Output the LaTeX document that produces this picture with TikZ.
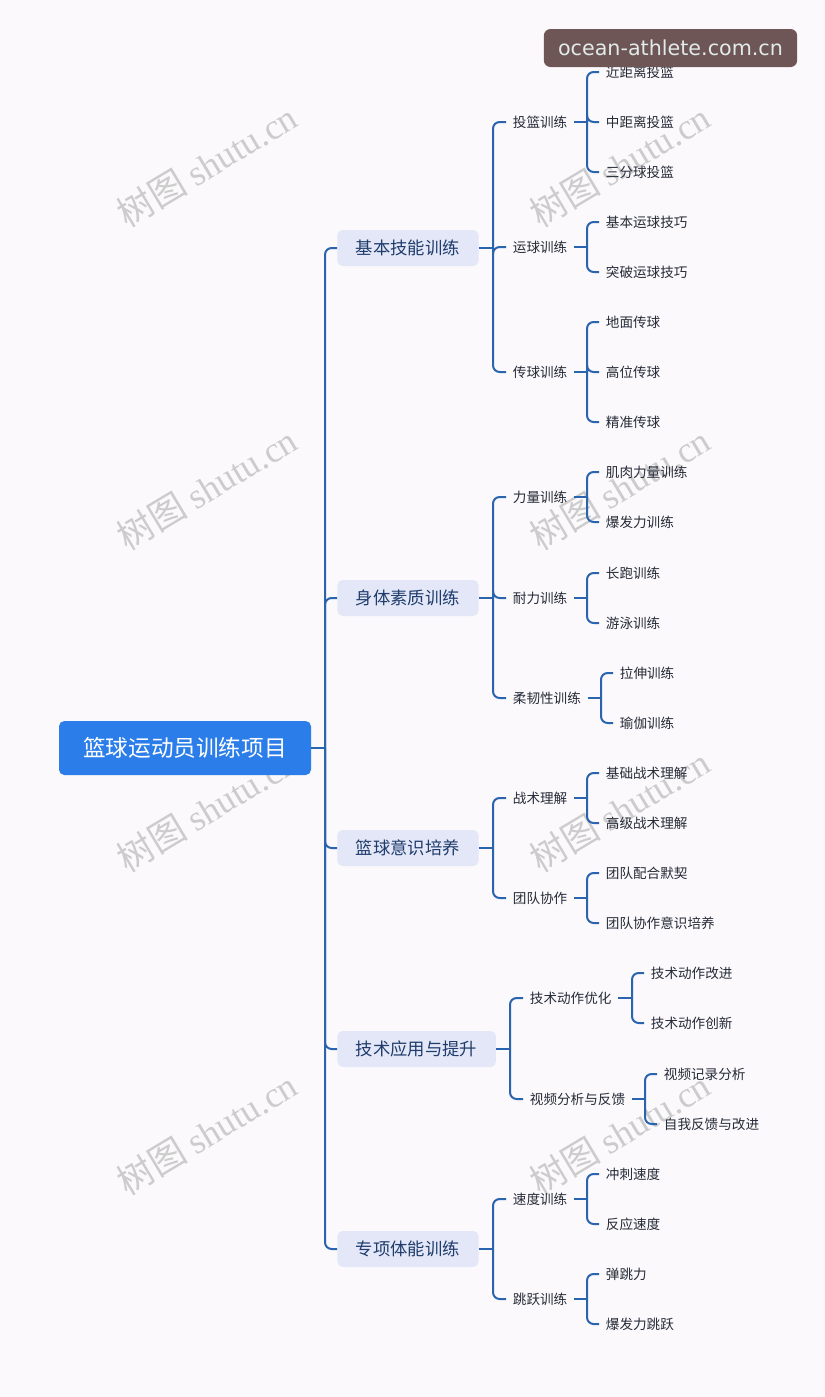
\documentclass[tikz,border=0pt]{standalone}
\usepackage{fontspec}
\setmainfont{Noto Sans CJK SC}
\newfontfamily\sitefont{DejaVu Sans}
\newfontfamily\wmfont{Liberation Serif}

\definecolor{rootblue}{HTML}{2B7DE9}
\definecolor{catfill}{HTML}{E3E7F7}
\definecolor{cattext}{HTML}{1F3C6C}
\definecolor{linkblue}{HTML}{2A64AE}
\definecolor{itemtext}{HTML}{262B38}
\definecolor{badgefill}{HTML}{6E5656}
\definecolor{badgetext}{HTML}{E2EAEA}
\definecolor{paper}{HTML}{FBF9FB}

\begin{document}
\begin{tikzpicture}[x=0.75pt, y=-0.75pt,
  root/.style={rectangle, rounded corners=4pt, fill=rootblue, text=white, font=\fontsize{17}{20}\selectfont, inner xsep=18pt, minimum height=40.5pt},
  cat/.style={rectangle, rounded corners=4pt, fill=catfill, text=cattext, font=\fontsize{13}{16}\selectfont, inner xsep=14pt, minimum height=27pt, anchor=west},
  item/.style={text=itemtext, font=\fontsize{10.2}{12}\selectfont, inner xsep=5pt, inner ysep=2pt, anchor=west},
  link/.style={draw=linkblue, line width=1.5pt, rounded corners=5pt},
  wmark/.style={text=black!20, rotate=31, font=\fontsize{27}{30}\selectfont},
  badge/.style={rectangle, rounded corners=5pt, fill=badgefill, text=badgetext, font=\sitefont\fontsize{15.5}{18}\selectfont, minimum width=190pt, minimum height=28.5pt}
]
\fill[paper] (0,0) rectangle (825,1397);
\useasboundingbox (0,0) rectangle (825,1397);

% watermarks
\foreach \wx in {207,620} {
  \foreach \wy/\wn in {165/1,488/2,810/3,1133/4} {
    \node[wmark] (wm-\wx-\wn) at (\wx,\wy) {树图 {\wmfont shutu.cn}};
  }
}

\node[root] (root) at (185,748) {篮球运动员训练项目};

\node[cat] (c1) at (337,248)  {基本技能训练};
\node[cat] (c2) at (337,598)  {身体素质训练};
\node[cat] (c3) at (337,848)  {篮球意识培养};
\node[cat] (c4) at (337,1049) {技术应用与提升};
\node[cat] (c5) at (337,1249) {专项体能训练};

% second level
\node[item] (c1a) at (506,122)  {投篮训练};
\node[item] (c1b) at (506,247)  {运球训练};
\node[item] (c1c) at (506,372)  {传球训练};
\node[item] (c2a) at (506,497)  {力量训练};
\node[item] (c2b) at (506,598)  {耐力训练};
\node[item] (c2c) at (506,698)  {柔韧性训练};
\node[item] (c3a) at (506,798)  {战术理解};
\node[item] (c3b) at (506,898)  {团队协作};
\node[item] (c4a) at (523,998)  {技术动作优化};
\node[item] (c4b) at (523,1099) {视频分析与反馈};
\node[item] (c5a) at (506,1199) {速度训练};
\node[item] (c5b) at (506,1299) {跳跃训练};

% third level
\node[item] (c1a1) at (599,72)   {近距离投篮};
\node[item] (c1a2) at (599,122)  {中距离投篮};
\node[item] (c1a3) at (599,172)  {三分球投篮};
\node[item] (c1b1) at (599,222)  {基本运球技巧};
\node[item] (c1b2) at (599,272)  {突破运球技巧};
\node[item] (c1c1) at (599,322)  {地面传球};
\node[item] (c1c2) at (599,372)  {高位传球};
\node[item] (c1c3) at (599,422)  {精准传球};
\node[item] (c2a1) at (599,472)  {肌肉力量训练};
\node[item] (c2a2) at (599,522)  {爆发力训练};
\node[item] (c2b1) at (599,573)  {长跑训练};
\node[item] (c2b2) at (599,623)  {游泳训练};
\node[item] (c2c1) at (613,673)  {拉伸训练};
\node[item] (c2c2) at (613,723)  {瑜伽训练};
\node[item] (c3a1) at (599,773)  {基础战术理解};
\node[item] (c3a2) at (599,823)  {高级战术理解};
\node[item] (c3b1) at (599,873)  {团队配合默契};
\node[item] (c3b2) at (599,923)  {团队协作意识培养};
\node[item] (c4a1) at (644,973)  {技术动作改进};
\node[item] (c4a2) at (644,1023) {技术动作创新};
\node[item] (c4b1) at (657,1074) {视频记录分析};
\node[item] (c4b2) at (657,1124) {自我反馈与改进};
\node[item] (c5a1) at (599,1174) {冲刺速度};
\node[item] (c5a2) at (599,1224) {反应速度};
\node[item] (c5b1) at (599,1274) {弹跳力};
\node[item] (c5b2) at (599,1324) {爆发力跳跃};

% branches: parent / x of the fork / children
\foreach \p/\fx/\kids in {
    root/325/{c1,c2,c3,c4,c5},
    c1/493/{c1a,c1b,c1c}, c2/493/{c2a,c2b,c2c}, c3/493/{c3a,c3b},
    c4/510/{c4a,c4b}, c5/493/{c5a,c5b},
    c1a/587/{c1a1,c1a2,c1a3}, c1b/587/{c1b1,c1b2}, c1c/587/{c1c1,c1c2,c1c3},
    c2a/587/{c2a1,c2a2}, c2b/587/{c2b1,c2b2}, c2c/601/{c2c1,c2c2},
    c3a/587/{c3a1,c3a2}, c3b/587/{c3b1,c3b2},
    c4a/632/{c4a1,c4a2}, c4b/645/{c4b1,c4b2},
    c5a/587/{c5a1,c5a2}, c5b/587/{c5b1,c5b2}} {
  \coordinate (j-\p) at (\fx,0 |- \p.east);
  \draw[link] (\p.east) -- (j-\p);
  \foreach \k in \kids { \draw[link] (j-\p) |- (\k.west); }
}

\node[badge] (site) at (670.5,48) {ocean-athlete.com.cn};
\end{tikzpicture}
\end{document}
